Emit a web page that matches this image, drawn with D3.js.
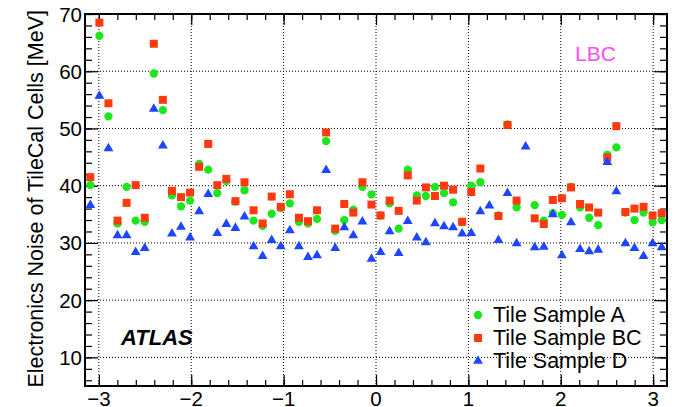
<!DOCTYPE html>
<html>
<head>
<meta charset="utf-8">
<script src="https://cdn.jsdelivr.net/npm/d3@7/dist/d3.min.js"></script>
<style>
  body { margin: 0; background: #fff; }
  text { font-family: "Liberation Sans", Arial, Helvetica, sans-serif; }
</style>
</head>
<body>
<svg id="chart" width="686" height="407"></svg>
<script>
// LBC modules 1..64, plotted at the module phi centre
const nModules = 64;
const modules = d3.range(1, nModules + 1);

// Electronics noise per module [MeV]; null = no point drawn
const noiseA = [40.1, 66.2, 52.1, 33.4, 39.8, 33.9, 33.7, 59.6, 53.2, 38.3, 36.4, 37.4, 43.8, 42.8, 38.7, 40.8,
                37.2, 39.2, 33.9, 33.0, 35.1, 36.1, 36.9, 33.7, 33.4, 34.2, 47.8, 32.1, 34.0, 35.8, 39.8, 38.5,
                34.8, 36.9, 32.5, 42.8, 38.3, 38.2, 39.8, 38.7, 37.1, 33.6, 40.0, 40.6, null, 34.8, 50.7, 36.2,
                null, 36.6, 33.9, 35.2, 34.9, 39.8, 36.2, 34.4, 33.1, 45.4, 46.7, 35.3, 34.0, 35.3, 33.6, 34.0];
const noiseBC = [41.5, 68.5, 54.4, 33.9, 37.0, 40.1, 34.4, 64.8, 55.0, 39.1, 38.0, 38.8, 43.3, 47.3, 40.1, 41.2,
                 37.3, 40.6, 35.7, 33.4, 38.1, 36.3, 38.5, 34.4, 33.8, 35.7, 49.3, 32.5, 36.8, 35.3, 40.6, 36.7,
                 34.8, 37.4, 35.6, 41.8, 37.4, 39.7, 38.2, 40.0, 39.3, 33.7, 38.9, 43.0, null, 34.7, 50.6, 37.4,
                 null, 34.3, 33.3, 37.5, 37.8, 39.7, 36.8, 36.2, 35.3, 44.9, 50.4, 35.4, 36.0, 36.3, 34.8, 35.2];
const noiseD = [36.6, 55.7, 46.5, 31.3, 31.3, 28.4, 29.1, 53.4, 47.0, 31.6, 32.8, 30.9, 35.5, 38.5, 31.7, 33.3,
                32.6, 34.6, 29.4, 27.7, 30.5, 29.4, 32.2, 29.4, 27.5, 27.8, 42.7, 29.1, 32.7, 31.3, 33.7, 27.2,
                28.4, 32.0, 28.2, 33.8, 30.9, 30.1, 33.4, 32.9, 32.7, 31.6, 31.7, 35.5, 36.5, 30.5, 38.7, 29.9,
                46.8, 29.2, 29.3, 35.0, 27.8, 33.6, 28.9, 28.5, 28.8, 44.1, 39.0, 29.9, 29.1, 27.7, 29.9, 29.2];

const seriesNames = ['Tile Sample A', 'Tile Sample BC', 'Tile Sample D'];
const xTicks = [-3, -2, -1, 0, 1, 2, 3];
const yTicks = [10, 20, 30, 40, 50, 60, 70];
const xDomain = [-3.15, 3.15];
const yDomain = [5, 70];

const svg = d3.select('#chart');
const frame = { left: 85, right: 667, top: 14, bottom: 386 };

const x = d3.scaleLinear().domain(xDomain).range([frame.left, frame.right]);
const y = d3.scaleLinear().domain(yDomain).range([frame.bottom, frame.top]);

const phiOf = m => -Math.PI + (m - 0.5) * 2 * Math.PI / nModules;

// minor tick positions, 5 divisions per major step
const xMinor = d3.range(-3.2, 3.21, 0.2).filter(v => v >= xDomain[0] && v <= xDomain[1]);
const yMinor = d3.range(6, 70.1, 2);

// dotted grid at the major ticks
svg.append('g').selectAll('line.gx')
  .data(xTicks)
  .join('line')
    .attr('x1', d => x(d)).attr('x2', d => x(d))
    .attr('y1', frame.top).attr('y2', frame.bottom)
    .attr('stroke', '#000').attr('stroke-width', 1)
    .attr('stroke-dasharray', '1,2');
svg.append('g').selectAll('line.gy')
  .data(yTicks.filter(v => v < 70))
  .join('line')
    .attr('x1', frame.left).attr('x2', frame.right)
    .attr('y1', d => y(d)).attr('y2', d => y(d))
    .attr('stroke', '#000').attr('stroke-width', 1)
    .attr('stroke-dasharray', '1,2');

// axes with inward ticks on all four sides
function tickAxis(axis, values, size) {
  return axis.tickValues(values).tickSize(size).tickSizeOuter(0).tickFormat('');
}
const axes = svg.append('g').attr('class', 'axes');

axes.append('g').attr('transform', `translate(0,${frame.bottom})`)
  .call(tickAxis(d3.axisBottom(x), xMinor, -6));
axes.append('g').attr('transform', `translate(0,${frame.bottom})`)
  .call(tickAxis(d3.axisBottom(x), xTicks, -11));
axes.append('g').attr('transform', `translate(0,${frame.top})`)
  .call(tickAxis(d3.axisTop(x), xMinor, -6));
axes.append('g').attr('transform', `translate(0,${frame.top})`)
  .call(tickAxis(d3.axisTop(x), xTicks, -11));
axes.append('g').attr('transform', `translate(${frame.left},0)`)
  .call(tickAxis(d3.axisLeft(y), yMinor, -7));
axes.append('g').attr('transform', `translate(${frame.left},0)`)
  .call(tickAxis(d3.axisLeft(y), yTicks, -13));
axes.append('g').attr('transform', `translate(${frame.right},0)`)
  .call(tickAxis(d3.axisRight(y), yMinor, -7));
axes.append('g').attr('transform', `translate(${frame.right},0)`)
  .call(tickAxis(d3.axisRight(y), yTicks, -13));

axes.selectAll('.domain').remove();
axes.selectAll('line').attr('stroke', '#000').attr('stroke-width', 1.2);

svg.append('rect')
  .attr('x', frame.left).attr('y', frame.top)
  .attr('width', frame.right - frame.left).attr('height', frame.bottom - frame.top)
  .attr('fill', 'none').attr('stroke', '#000').attr('stroke-width', 2);

// tick labels (bottom row is cut by the page edge, as in the original)
svg.append('g').selectAll('text')
  .data(xTicks)
  .join('text')
    .attr('x', d => x(d)).attr('y', 406)
    .attr('text-anchor', 'middle')
    .attr('font-size', 20.5)
    .text(d => d < 0 ? '\u2212' + Math.abs(d) : d);
svg.append('g').selectAll('text')
  .data(yTicks)
  .join('text')
    .attr('x', 82).attr('y', d => y(d) + 7.5)
    .attr('text-anchor', 'end')
    .attr('font-size', 20.5)
    .text(d => d);

svg.append('text')
  .attr('transform', 'translate(43,10) rotate(-90)')
  .attr('text-anchor', 'end')
  .attr('font-size', 21.5)
  .text('Electronics Noise of TileCal Cells [MeV]');

// markers, A then BC then D on top
const styles = [
  { values: noiseA,  type: d3.symbolCircle,   size: 54, color: '#1ee61e' },
  { values: noiseBC, type: d3.symbolSquare,   size: 64, color: '#ff3a10' },
  { values: noiseD,  type: d3.symbolTriangle, size: 42, color: '#1e45ff' }
];

styles.forEach(s => {
  const pts = modules.map((m, i) => ({ phi: phiOf(m), v: s.values[i] })).filter(d => d.v != null);
  svg.append('g').selectAll('path')
    .data(pts)
    .join('path')
      .attr('d', d3.symbol().type(s.type).size(s.size))
      .attr('transform', d => `translate(${x(d.phi)},${y(d.v)})`)
      .attr('fill', s.color);
});

// legend
const legend = svg.append('g');
styles.forEach((s, i) => {
  const cy = 315 + i * 23;
  legend.append('path')
    .attr('d', d3.symbol().type(s.type).size(s.size)())
    .attr('transform', `translate(478,${cy})`)
    .attr('fill', s.color);
  legend.append('text')
    .attr('x', 493).attr('y', cy + 7)
    .attr('font-size', 21.5)
    .text(seriesNames[i]);
});

svg.append('text')
  .attr('x', 121).attr('y', 345)
  .attr('font-size', 22).attr('font-weight', 'bold').attr('font-style', 'italic')
  .text('ATLAS');

svg.append('text')
  .attr('x', 575).attr('y', 60.5)
  .attr('font-size', 21).attr('fill', '#ff4cf4')
  .text('LBC');
</script>
</body>
</html>
